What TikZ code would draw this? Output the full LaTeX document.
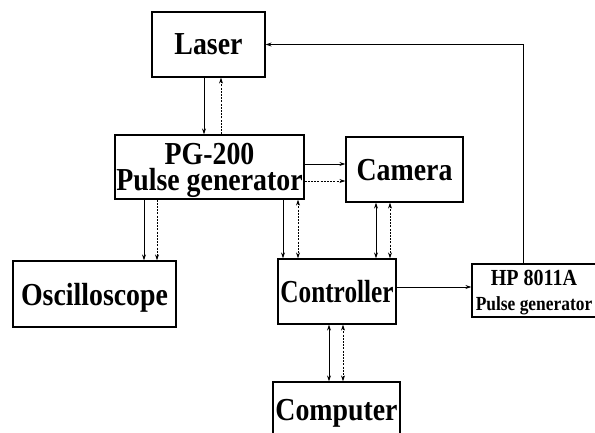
\documentclass[tikz,border=0pt]{standalone}
\usepackage{fontspec}
\setmainfont[FakeStretch=0.87]{Liberation Serif}
\newfontfamily\ctrlfont[FakeStretch=0.79]{Liberation Serif}
\usetikzlibrary{arrows.meta,positioning,calc}

\begin{document}
\begin{tikzpicture}[x=1pt, y=-1pt,
  block/.style={draw, line width=1.2pt, inner sep=0pt, text depth=0pt, align=center, font=\bfseries\fontsize{32}{25.5}\selectfont},
  sig/.style={line width=0.8pt, -{Stealth[length=6pt,width=4pt]}},
  sigboth/.style={line width=0.8pt, {Stealth[length=6pt,width=4pt]}-{Stealth[length=6pt,width=4pt]}},
  dsh/.style={dash pattern=on 2pt off 1.2pt}]
\useasboundingbox (0,0) rectangle (595,432);
\node[block, minimum width=113pt, minimum height=65pt] (laser) at (208.5,44.5) {Laser};
\node[block, minimum width=189pt, minimum height=64pt] (pg) at (209.5,167) {PG-200\\Pulse generator};
\node[block, minimum width=117pt, minimum height=65pt] (camera) at (404.5,169.5) {Camera};
\node[block, minimum width=163pt, minimum height=66pt] (osc) at (94.5,294) {Oscilloscope};
\node[block, minimum width=118pt, minimum height=65pt, font=\ctrlfont\bfseries\fontsize{32}{25.5}\selectfont] (ctrl) at (337,291.5) {Controller};
\node[block, minimum width=124pt, minimum height=53pt, font=\bfseries\fontsize{20}{25}\selectfont] (hp) at (534,290.5) {{\fontsize{23}{25}\selectfont HP 8011A}\\Pulse generator};
\node[block, minimum width=127pt, minimum height=56pt] (comp) at (336.5,410) {Computer};
% laser <-> pulse generator
\draw[sig] ([xshift=-4.5pt]laser.south) -- ([xshift=-4.5pt]laser.south |- pg.north);
\draw[sig, dsh] ([xshift=12.5pt]laser.south |- pg.north) -- ([xshift=12.5pt]laser.south);
% pulse generator -> camera
\draw[sig] ([yshift=3pt]pg.east) -- ([yshift=3pt]pg.east -| camera.west);
\draw[sig, dsh] ([yshift=-14pt]pg.east) -- ([yshift=-14pt]pg.east -| camera.west);
% pulse generator -> oscilloscope
\draw[sig] ([xshift=49.5pt]osc.north |- pg.south) -- ([xshift=49.5pt]osc.north);
\draw[sig, dsh] ([xshift=62.5pt]osc.north |- pg.south) -- ([xshift=62.5pt]osc.north);
% pulse generator -> controller
\draw[sig] ([xshift=-54pt]ctrl.north |- pg.south) -- ([xshift=-54pt]ctrl.north);
\draw[sigboth, dsh] ([xshift=-39pt]ctrl.north |- pg.south) -- ([xshift=-39pt]ctrl.north);
% camera <-> controller
\draw[sigboth] ([xshift=39pt]ctrl.north |- camera.south) -- ([xshift=39pt]ctrl.north);
\draw[sigboth, dsh] ([xshift=53pt]ctrl.north |- camera.south) -- ([xshift=53pt]ctrl.north);
% controller <-> computer
\draw[sigboth] ([xshift=-8pt]ctrl.south) -- ([xshift=-8pt]ctrl.south |- comp.north);
\draw[sigboth, dsh] ([xshift=6pt]ctrl.south) -- ([xshift=6pt]ctrl.south |- comp.north);
% controller -> HP, HP -> laser
\draw[sig] ([yshift=4.5pt]ctrl.east) -- ([yshift=4.5pt]ctrl.east -| hp.west);
\draw[sig] ([xshift=-11pt]hp.north) |- (laser.east);
\end{tikzpicture}
\end{document}
